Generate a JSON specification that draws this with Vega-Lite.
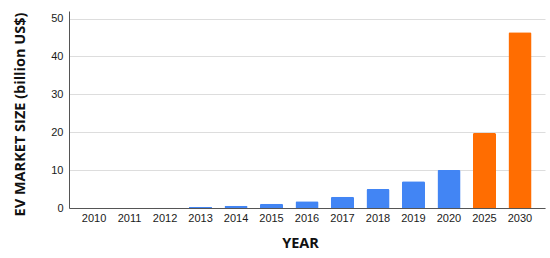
{
  "$schema": "https://vega.github.io/schema/vega-lite/v6.json",
  "autosize": {"type": "none"},
  "padding": {"left": 69, "top": 11, "right": 5, "bottom": 50},
  "width": 476,
  "height": 197,
  "background": "white",
  "data": {
    "values": [
      {"year": "2010", "value": 0.02, "kind": "actual"},
      {"year": "2011", "value": 0.03, "kind": "actual"},
      {"year": "2012", "value": 0.05, "kind": "actual"},
      {"year": "2013", "value": 0.25, "kind": "actual"},
      {"year": "2014", "value": 0.6, "kind": "actual"},
      {"year": "2015", "value": 1.15, "kind": "actual"},
      {"year": "2016", "value": 1.8, "kind": "actual"},
      {"year": "2017", "value": 3.0, "kind": "actual"},
      {"year": "2018", "value": 5.0, "kind": "actual"},
      {"year": "2019", "value": 7.05, "kind": "actual"},
      {"year": "2020", "value": 10.05, "kind": "actual"},
      {"year": "2025", "value": 19.8, "kind": "forecast"},
      {"year": "2030", "value": 46.4, "kind": "forecast"}
    ]
  },
  "mark": {"type": "bar", "cornerRadiusTopLeft": 1.5, "cornerRadiusTopRight": 1.5},
  "encoding": {
    "x": {
      "field": "year",
      "type": "ordinal",
      "sort": null,
      "scale": {"paddingInner": 0.35, "paddingOuter": 0.38},
      "axis": {
        "title": "YEAR",
        "labelAngle": 0,
        "ticks": false,
        "labelPadding": 4,
        "labelFont": "Liberation Sans",
        "labelFontSize": 11,
        "labelColor": "#1a1a1a",
        "domainColor": "#555555",
        "titleFont": "Open Sans",
        "titleFontWeight": "bold",
        "titleFontSize": 14.5,
        "titleColor": "#111111",
        "titleX": 231,
        "titleY": 35,
        "titleBaseline": "middle"
      }
    },
    "y": {
      "field": "value",
      "type": "quantitative",
      "scale": {"domain": [0, 52], "nice": false},
      "axis": {
        "title": "EV MARKET SIZE (billion US$)",
        "values": [0, 10, 20, 30, 40, 50],
        "ticks": false,
        "labelPadding": 6,
        "labelFont": "Liberation Sans",
        "labelFontSize": 11,
        "labelColor": "#1a1a1a",
        "domainColor": "#555555",
        "gridColor": "#dddddd",
        "titleFont": "Open Sans",
        "titleFontWeight": "bold",
        "titleFontSize": 14.5,
        "titleColor": "#111111",
        "titleX": -49,
        "titleY": 103,
        "titleBaseline": "middle",
        "titleAngle": -90,
        "titleAlign": "center"
      }
    },
    "color": {
      "field": "kind",
      "type": "nominal",
      "scale": {"domain": ["actual", "forecast"], "range": ["#4285F4", "#FF6D01"]},
      "legend": null
    }
  },
  "config": {"view": {"stroke": null}}
}
